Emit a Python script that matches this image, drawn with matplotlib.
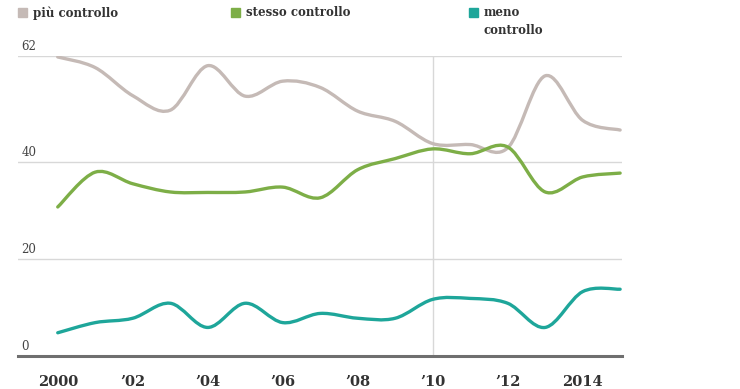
import matplotlib
matplotlib.use("Agg")
import matplotlib.pyplot as plt
import numpy as np
from matplotlib.path import Path
from matplotlib.patches import PathPatch, Rectangle

# data (percent)
years = list(range(2000, 2016))
piu_controllo = [61.8, 59.6, 53.8, 50.8, 60.0, 53.7, 56.8, 55.5, 50.6, 48.5,
                 43.9, 43.7, 43.0, 57.9, 48.7, 46.7]
stesso_controllo = [30.8, 38.0, 35.6, 33.9, 33.8, 33.9, 34.9, 32.7, 38.5, 40.8,
                    42.8, 41.8, 43.2, 33.9, 37.0, 37.8]
meno_controllo = [4.8, 6.9, 7.8, 10.9, 5.9, 10.9, 6.9, 8.8, 7.8, 7.8,
                  11.7, 11.9, 10.9, 5.9, 13.3, 13.8]

series_names = ["più controllo", "stesso controllo", "meno\ncontrollo"]
series_colors = ["#c5bab6", "#7dae47", "#1ea69a"]
y_ticks = [0, 20, 40, 62]
x_ticks = [2000, 2002, 2004, 2006, 2008, 2010, 2012, 2014]
x_labels = ["2000", "\u201902", "\u201904", "\u201906", "\u201908", "\u201910", "\u201912", "2014"]


def smooth_path(xs, ys):
    """Catmull-Rom curve through the points, as cubic Bezier segments."""
    p = np.column_stack([xs, ys]).astype(float)
    ext = np.vstack([p[0], p, p[-1]])
    verts = [p[0]]
    codes = [Path.MOVETO]
    for i in range(len(p) - 1):
        p0, p1, p2, p3 = ext[i], ext[i + 1], ext[i + 2], ext[i + 3]
        verts += [p1 + (p2 - p0) / 6, p2 - (p3 - p1) / 6, p2]
        codes += [Path.CURVE4] * 3
    return Path(verts, codes)


fig = plt.figure(figsize=(7.4, 3.89), dpi=100)
ax = fig.add_axes([18 / 740, 33 / 389, 604 / 740, 300 / 389])
ax.set_xlim(1998.94, 2015.05)
ax.set_ylim(0, 62)

for v in y_ticks[1:]:
    ax.axhline(v, color="#d8d8d8", lw=1, zorder=1)
ax.axvline(2010, color="#d8d8d8", lw=1, zorder=1)

for vals, col in zip([piu_controllo, stesso_controllo, meno_controllo], series_colors):
    ax.add_patch(PathPatch(smooth_path(years, vals), fill=False, edgecolor=col,
                           lw=2.4, capstyle="round", joinstyle="round", zorder=3))

for s in ["top", "right", "left"]:
    ax.spines[s].set_visible(False)
ax.spines["bottom"].set_color("#6f6f6f")
ax.spines["bottom"].set_linewidth(2.2)

ax.set_yticks([])
for v in y_ticks:
    ax.annotate(str(v), xy=(0, v), xycoords=("axes fraction", "data"),
                xytext=(2.5, 2.5), textcoords="offset points", va="bottom", ha="left",
                fontsize=8.5, family="DejaVu Serif", color="#444444")

ax.set_xticks(x_ticks)
ax.set_xticklabels(x_labels, fontsize=10.5, family="DejaVu Serif", fontweight="bold",
                   color="#333333")
ax.tick_params(axis="x", length=0, pad=14)

# legend at top
leg_x = [18, 231, 469]
for name, col, lx in zip(series_names, series_colors, leg_x):
    fig.patches.append(Rectangle((lx / 740, 1 - 17 / 389), 9 / 740, 9 / 389,
                                 transform=fig.transFigure, color=col, zorder=5))
    fig.text((lx + 15) / 740, 1 - 6 / 389, name, ha="left", va="top",
             fontsize=8.5, family="DejaVu Serif", fontweight="bold",
             color="#333333", linespacing=1.45)

fig.savefig("out.png", dpi=100, facecolor="white")
